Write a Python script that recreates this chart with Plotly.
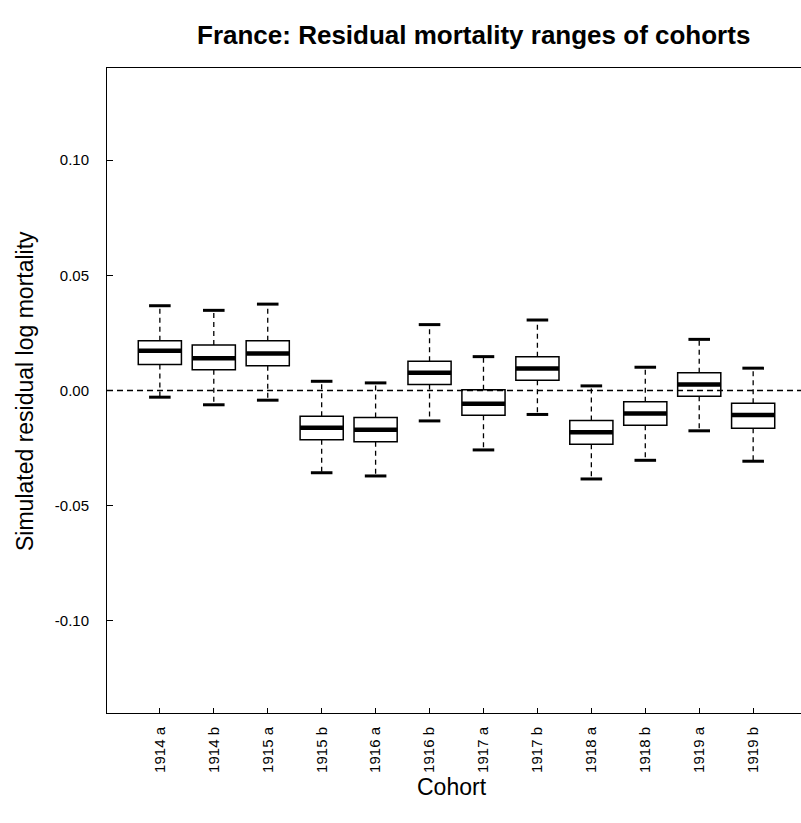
import plotly.graph_objects as go

cohorts = ["1914 a", "1914 b", "1915 a", "1915 b", "1916 a", "1916 b",
           "1917 a", "1917 b", "1918 a", "1918 b", "1919 a", "1919 b"]
upper_whisker = [0.0368, 0.0348, 0.0375, 0.0040, 0.0033, 0.0286,
                 0.0147, 0.0306, 0.0020, 0.0101, 0.0222, 0.0097]
q3_values = [0.0216, 0.0197, 0.0216, -0.0112, -0.0117, 0.0127,
             0.0003, 0.0147, -0.0130, -0.0049, 0.0077, -0.0055]
medians = [0.0173, 0.0140, 0.0161, -0.0162, -0.0170, 0.0077,
           -0.0057, 0.0096, -0.0181, -0.0100, 0.0026, -0.0106]
q1_values = [0.0113, 0.0090, 0.0107, -0.0214, -0.0222, 0.0026,
             -0.0107, 0.0045, -0.0233, -0.0151, -0.0025, -0.0164]
lower_whisker = [-0.0029, -0.0062, -0.0042, -0.0357, -0.0371, -0.0132,
                 -0.0258, -0.0104, -0.0384, -0.0303, -0.0175, -0.0307]
y_tick_values = [-0.10, -0.05, 0.00, 0.05, 0.10]
y_tick_labels = ["-0.10", "-0.05", "0.00", "0.05", "0.10"]

positions = list(range(1, len(cohorts) + 1))
BOX_W = 0.8
CAP_HALF = 0.2
FONT = "Liberation Sans, Arial, sans-serif"

fig = go.Figure()

# dashed whiskers
wx, wy = [], []
for p, lo, q1, q3, hi in zip(positions, lower_whisker, q1_values, q3_values, upper_whisker):
    wx += [p, p, None, p, p, None]
    wy += [q3, hi, None, q1, lo, None]
fig.add_trace(go.Scatter(x=wx, y=wy, mode="lines", hoverinfo="skip",
                         line=dict(color="black", width=1.3, dash="5px,4px"),
                         showlegend=False))

# whisker caps
cx, cy = [], []
for p, lo, hi in zip(positions, lower_whisker, upper_whisker):
    cx += [p - CAP_HALF, p + CAP_HALF, None, p - CAP_HALF, p + CAP_HALF, None]
    cy += [hi, hi, None, lo, lo, None]
fig.add_trace(go.Scatter(x=cx, y=cy, mode="lines", hoverinfo="skip",
                         line=dict(color="black", width=3),
                         showlegend=False))

# boxes
fig.add_trace(go.Box(
    x=positions, q1=q1_values, median=medians, q3=q3_values,
    lowerfence=q1_values, upperfence=q3_values,
    width=BOX_W, whiskerwidth=0, fillcolor="white",
    line=dict(color="black", width=1.5), showlegend=False, hoverinfo="skip",
))

# thick medians
mx, my = [], []
for p, m in zip(positions, medians):
    mx += [p - BOX_W / 2, p + BOX_W / 2, None]
    my += [m, m, None]
fig.add_trace(go.Scatter(x=mx, y=my, mode="lines", hoverinfo="skip",
                         line=dict(color="black", width=4.5),
                         showlegend=False))

L, R, T, B = 107, 0, 68, 110
W, H = 801, 823
pw, ph = W - L - R, H - T - B

def px_x(px):
    return (px - L) / pw

def px_y(py):
    return (H - B - py) / ph

fig.add_shape(type="line", xref="paper", yref="y", x0=0, x1=1, y0=0, y1=0,
              line=dict(color="black", width=1.3, dash="6px,4px"), layer="above")

fig.update_layout(
    width=W, height=H,
    margin=dict(l=L, r=R, t=T, b=B, pad=0),
    paper_bgcolor="white", plot_bgcolor="white",
    font=dict(family=FONT, color="black", size=15),
    showlegend=False,
    xaxis=dict(
        range=[0.02, 12.887], tickmode="array", tickvals=positions, ticktext=cohorts,
        tickangle=-90, ticks="inside", ticklen=5, tickwidth=1, tickcolor="black",
        showline=True, linecolor="black", linewidth=1, mirror=True,
        showgrid=False, zeroline=False, ticklabelstandoff=7,
        tickfont=dict(family=FONT, size=15, color="black"),
    ),
    yaxis=dict(
        range=[-0.14, 0.14], tickmode="array", tickvals=y_tick_values, ticktext=y_tick_labels,
        ticks="inside", ticklen=6, tickwidth=1, tickcolor="black",
        showline=True, linecolor="black", linewidth=1, mirror=False,
        showgrid=False, zeroline=False, ticklabelstandoff=14,
        tickfont=dict(family=FONT, size=15, color="black"),
    ),
    annotations=[
        dict(text="<b>France: Residual mortality ranges of cohorts</b>", xref="paper", yref="paper",
             x=px_x(473), y=px_y(35), xanchor="center", yanchor="middle", showarrow=False,
             font=dict(family=FONT, size=26, color="black")),
        dict(text="Simulated residual log mortality", xref="paper", yref="paper",
             x=px_x(25), y=px_y(391), xanchor="center", yanchor="middle", showarrow=False,
             textangle=-90, font=dict(family=FONT, size=23, color="black")),
        dict(text="Cohort", xref="paper", yref="paper",
             x=px_x(452), y=px_y(787), xanchor="center", yanchor="middle", showarrow=False,
             font=dict(family=FONT, size=23, color="black")),
    ],
)

fig.write_html("out.html")
